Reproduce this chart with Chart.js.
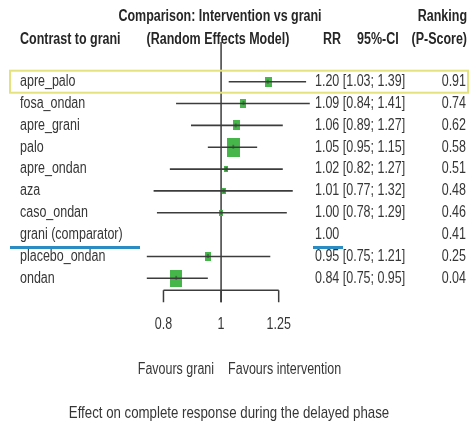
<!DOCTYPE html>
<html>
<head>
<meta charset="utf-8">
<script src="https://cdn.jsdelivr.net/npm/chart.js@4.4.0/dist/chart.umd.min.js"></script>
<style>
    html, body { margin: 0; padding: 0; background: #ffffff; }
    #forest { display: block; }
</style>
</head>
<body>
<canvas id="forest" width="472" height="425"></canvas>
<script>
(function () {
    'use strict';

    const contrasts = [
        'apre_palo', 'fosa_ondan', 'apre_grani', 'palo', 'apre_ondan',
        'aza', 'caso_ondan', 'grani (comparator)', 'placebo_ondan', 'ondan',
    ];
    const rr = [1.20, 1.09, 1.06, 1.05, 1.02, 1.01, 1.00, 1.00, 0.95, 0.84];
    const ciLow = [1.03, 0.84, 0.89, 0.95, 0.82, 0.77, 0.78, null, 0.75, 0.75];
    const ciHigh = [1.39, 1.41, 1.27, 1.15, 1.27, 1.32, 1.29, null, 1.21, 0.95];
    const pScores = [0.91, 0.74, 0.62, 0.58, 0.51, 0.48, 0.46, 0.41, 0.25, 0.04];
    // relative weight of each estimate (drives the box size)
    const weights = [0.55, 0.45, 0.55, 1.0, 0.33, 0.33, 0.33, 0, 0.45, 0.9];
    const axisTicks = [0.8, 1, 1.25];
    const axisTickLabels = ['0.8', '1', '1.25'];

    const FONT = "'Liberation Sans', Arial, sans-serif";
    const SX = 0.78; // squeeze the text to a narrow face
    const INK = '#363636';
    const LINE = '#3c3c3c';
    const GREEN = '#46b64b';

    // boxes as small canvases so they can be taller than wide
    function makeBox(weight) {
        const w = Math.max(1, Math.round(13 * weight));
        const h = Math.max(1, Math.round(w * 1.45));
        const c = document.createElement('canvas');
        c.width = w;
        c.height = h;
        const g = c.getContext('2d');
        g.fillStyle = GREEN;
        g.fillRect(0, 0, w, h);
        g.fillStyle = '#2f5a30';
        g.fillRect(Math.floor(w / 2) - 0.5, Math.floor(h / 2) - 2, 1.2, 4);
        return c;
    }
    const boxes = weights.map(makeBox);

    const ciSets = [];
    contrasts.forEach(function (name, i) {
        if (ciLow[i] == null) return;
        ciSets.push({
            data: [{ x: ciLow[i], y: i }, { x: ciHigh[i], y: i }],
            showLine: true,
            borderColor: LINE,
            borderWidth: 1.6,
            pointRadius: 0,
            order: 0,
        });
    });

    const boxSet = {
        data: rr.map(function (v, i) { return { x: v, y: i }; }),
        pointStyle: function (ctx) { return boxes[ctx.dataIndex]; },
        pointRadius: function (ctx) { return weights[ctx.dataIndex] > 0 ? 3 : 0; },
        showLine: false,
        order: 1,
    };

    function text(ctx, str, x, y, align, size, bold) {
        ctx.save();
        ctx.font = (bold ? 'bold ' : '') + size + 'px ' + FONT;
        ctx.textAlign = align;
        ctx.textBaseline = 'middle';
        ctx.translate(x, y);
        ctx.scale(SX, 1);
        ctx.fillText(str, 0, 0);
        ctx.restore();
    }

    const forestDecor = {
        id: 'forestDecor',
        beforeDatasetsDraw: function (chart) {
            const ctx = chart.ctx;
            const xs = chart.scales.x;
            const ys = chart.scales.y;
            const x1 = xs.getPixelForValue(1);
            const axisY = ys.getPixelForValue(9.55);
            const tickEnd = ys.getPixelForValue(10.1);

            ctx.save();
            ctx.strokeStyle = LINE;
            ctx.lineWidth = 1.5;

            // line of no effect
            ctx.beginPath();
            ctx.moveTo(x1, ys.getPixelForValue(-1.82));
            ctx.lineTo(x1, tickEnd);
            ctx.stroke();

            // x axis
            ctx.beginPath();
            ctx.moveTo(xs.getPixelForValue(axisTicks[0]), axisY);
            ctx.lineTo(xs.getPixelForValue(axisTicks[axisTicks.length - 1]), axisY);
            axisTicks.forEach(function (t) {
                const px = xs.getPixelForValue(t);
                ctx.moveTo(px, axisY);
                ctx.lineTo(px, tickEnd);
            });
            ctx.stroke();
            ctx.restore();
        },
        afterDraw: function (chart) {
            const ctx = chart.ctx;
            const xs = chart.scales.x;
            const ys = chart.scales.y;
            const x1 = xs.getPixelForValue(1);

            ctx.save();
            ctx.fillStyle = '#262626';
            text(ctx, 'Comparison: Intervention vs grani', 220, 17, 'center', 16, true);
            text(ctx, 'Ranking', 467, 17, 'right', 16, true);
            text(ctx, 'Contrast to grani', 20, 40, 'left', 16, true);
            text(ctx, '(Random Effects Model)', 218, 40, 'center', 16, true);
            text(ctx, 'RR', 323, 40, 'left', 16, true);
            text(ctx, '95%-CI', 357, 40, 'left', 16, true);
            text(ctx, '(P-Score)', 467, 40, 'right', 16, true);

            ctx.fillStyle = INK;
            contrasts.forEach(function (name, i) {
                const py = ys.getPixelForValue(i);
                text(ctx, name, 20, py, 'left', 16, false);
                let est = rr[i].toFixed(2);
                if (ciLow[i] != null) {
                    est += ' [' + ciLow[i].toFixed(2) + '; ' + ciHigh[i].toFixed(2) + ']';
                }
                text(ctx, est, 315, py, 'left', 16, false);
                text(ctx, pScores[i].toFixed(2), 466, py, 'right', 16, false);
            });

            axisTicks.forEach(function (t, k) {
                text(ctx, axisTickLabels[k], xs.getPixelForValue(t), 325, 'center', 16, false);
            });
            text(ctx, 'Favours grani', x1 - 7, 370, 'right', 16, false);
            text(ctx, 'Favours intervention', x1 + 7, 370, 'left', 16, false);
            text(ctx, 'Effect on complete response during the delayed phase', 229, 413, 'center', 17, false);

            // highlight of the top-ranked treatment
            const top = ys.getPixelForValue(0);
            ctx.strokeStyle = '#e4e27e';
            ctx.lineWidth = 2;
            ctx.strokeRect(10, top - 11, 458, 22);

            // comparator underline
            const ref = ys.getPixelForValue(contrasts.indexOf('grani (comparator)')) + 13;
            ctx.strokeStyle = '#2a8cc2';
            ctx.lineWidth = 3;
            ctx.beginPath();
            ctx.moveTo(10, ref);
            ctx.lineTo(140, ref);
            ctx.moveTo(313, ref);
            ctx.lineTo(343, ref);
            ctx.stroke();
            ctx.restore();
        },
    };

    new Chart(document.getElementById('forest'), {
        type: 'scatter',
        data: { datasets: ciSets.concat([boxSet]) },
        options: {
            responsive: false,
            animation: false,
            layout: { padding: { left: 129, right: 155, top: 38, bottom: 103 } },
            plugins: {
                legend: { display: false },
                tooltip: { enabled: false },
            },
            scales: {
                x: { type: 'logarithmic', min: 0.7, max: 1.45, display: false },
                y: { type: 'linear', min: -2, max: 11, reverse: true, display: false },
            },
        },
        plugins: [forestDecor],
    });
})();
</script>
</body>
</html>
